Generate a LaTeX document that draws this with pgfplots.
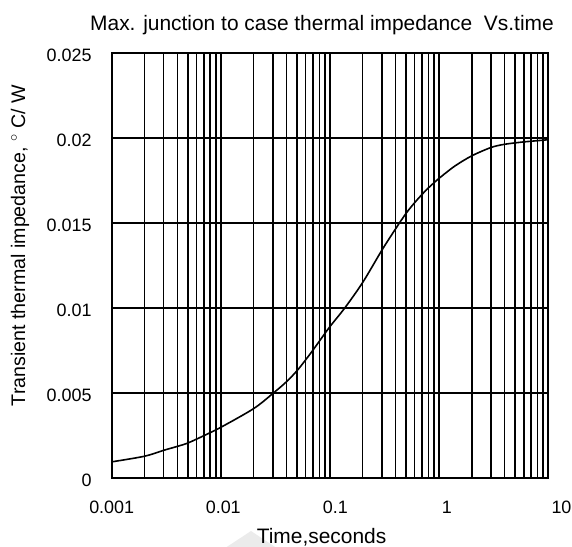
\documentclass[border=0pt]{standalone}
\usepackage{fontspec}
\setmainfont{Liberation Sans}
\usepackage{pgfplots}
\pgfplotsset{compat=1.18}

\begin{document}
\begin{tikzpicture}
% frame of the whole picture (572 x 547)
\path[use as bounding box] (-111.7bp,-69bp) rectangle (460.3bp,478bp);
% light grey wedge behind the x label
\fill[gray!16] (139.3bp,-53bp) -- (163.5bp,-69bp) -- (115bp,-69bp) -- cycle;

\begin{axis}[
    at={(0,0)}, anchor=south west,
    scale only axis,
    width=436.3bp, height=425bp,
    xmode=log, log basis x=10,
    xmin=0.001, xmax=10,
    ymin=0, ymax=0.025,
    xtick={0.001,0.01,0.1,1,10},
    xticklabels={0.001,\hspace*{5bp}0.01,\hspace*{11bp}0.1,\hspace*{16bp}1,\hspace*{27bp}10},
    minor xtick={0.002,0.003,0.004,0.005,0.006,0.007,0.008,0.009,
                 0.02,0.03,0.04,0.05,0.06,0.07,0.08,0.09,
                 0.2,0.3,0.4,0.5,0.6,0.7,0.8,0.9,
                 2,3,4,5,6,7,8,9},
    ytick={0,0.005,0.01,0.015,0.02,0.025},
    yticklabels={0,0.005,0.01,0.015,0.02,0.025},
    scaled y ticks=false,
    xmajorgrids=true, xminorgrids=true,
    ymajorgrids=true,
    grid style={black, line width=1.5bp},
    minor grid style={black, line width=1.5bp},
    major tick length=0pt, minor tick length=0pt,
    axis line style={black, line width=1.8bp},
    tick label style={font=\fontsize{18}{21}\selectfont},
    /pgf/number format/assume math mode=true,
    xticklabel style={anchor=base, yshift=-35bp},
    yticklabel style={anchor=east, inner sep=0pt, xshift=-20bp, yshift=-2bp},
    every axis title shift=0pt,
    title={Max. junction to case thermal impedance \ Vs.time},
    title style={font=\fontsize{21}{25}\selectfont, anchor=base,
        at={(axis description cs:0.482,1.052)}},
    xlabel={Time,seconds},
    xlabel style={font=\fontsize{21}{25}\selectfont, anchor=base,
        at={(axis description cs:0.481,-0.153)}},
    ylabel={Transient thermal impedance, $^\circ$ C/ W},
    ylabel style={font=\fontsize{19.7}{23}\selectfont, anchor=base,
        at={(axis description cs:-0.1987,0.547)}},
]
\addplot[black, line width=1.6bp, smooth] coordinates {
    (0.001,0.00095) (0.002,0.00128) (0.003,0.00163) (0.004,0.00186)
    (0.005,0.00206) (0.007,0.00249) (0.01,0.00298) (0.02,0.00408)
    (0.03,0.00497) (0.04,0.00566) (0.05,0.00631) (0.06,0.00695)
    (0.07,0.00752) (0.08,0.00804) (0.1,0.00890) (0.137,0.01000)
    (0.2,0.01150) (0.3,0.01340) (0.4,0.01465) (0.5,0.01557)
    (0.6,0.01620) (0.7,0.01668) (0.8,0.01706) (1.0,0.01762)
    (1.4,0.01835) (2,0.01895) (3,0.01944) (4,0.01963)
    (6,0.01977) (9,0.01987) (10,0.01990)
};
\end{axis}
\end{tikzpicture}
\end{document}
